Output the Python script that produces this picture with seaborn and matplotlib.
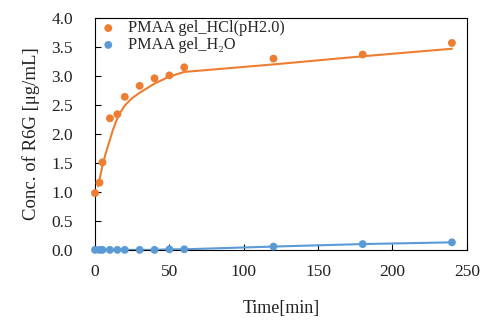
import numpy as np
import pandas as pd
import matplotlib
matplotlib.use("Agg")
import matplotlib.pyplot as plt
import seaborn as sns

# data
time_min = [0, 3, 5, 10, 15, 20, 30, 40, 50, 60, 120, 180, 240]
hcl_conc = [0.98, 1.16, 1.51, 2.27, 2.34, 2.64, 2.83, 2.96, 3.01, 3.15, 3.30, 3.37, 3.57]
h2o_conc = [0.0, 0.0, 0.0, 0.0, 0.0, 0.0, 0.0, 0.0, 0.01, 0.01, 0.057, 0.10, 0.13]

# fitted curve for the HCl series
fit_time = [2, 5, 7, 10, 12, 15, 17, 20, 25, 30, 40, 50, 60, 120, 180, 240]
fit_conc = [1.10, 1.45, 1.65, 1.90, 2.07, 2.27, 2.37, 2.49, 2.62, 2.71, 2.87, 2.99, 3.07, 3.20, 3.34, 3.47]

orange = "#ED7D31"
blue = "#5B9BD5"

sns.set_theme(style="white")
plt.rcParams["font.family"] = ["Liberation Serif", "DejaVu Serif"]

df = pd.DataFrame({"Time": time_min, "HCl": hcl_conc, "H2O": h2o_conc})
fit = pd.DataFrame({"Time": fit_time, "Conc": fit_conc})

fig, ax = plt.subplots(figsize=(4.95, 3.22), dpi=100)
fig.subplots_adjust(left=0.192, right=0.943, top=0.944, bottom=0.224)

sns.lineplot(data=fit, x="Time", y="Conc", ax=ax, color=orange, linewidth=1.5)
sns.lineplot(data=df, x="Time", y="H2O", ax=ax, color=blue, linewidth=1.5)
sns.scatterplot(data=df, x="Time", y="HCl", ax=ax, color=orange, s=32,
                edgecolor="none", label="PMAA gel_HCl(pH2.0)", clip_on=False, zorder=3)
sns.scatterplot(data=df, x="Time", y="H2O", ax=ax, color=blue, s=32,
                edgecolor="none", label="PMAA gel_H\u2082O", clip_on=False, zorder=3)

ax.set_xlim(0, 250)
ax.set_ylim(0, 4.0)
ax.set_xticks(np.arange(0, 251, 50))
ax.set_yticks(np.arange(0, 4.01, 0.5))
ax.yaxis.set_major_formatter(matplotlib.ticker.FormatStrFormatter("%.1f"))
ax.tick_params(direction="in", length=4, width=0.8, color="black",
               labelsize=12.5, colors="#222222", top=False, right=False,
               bottom=True, left=True)
ax.tick_params(axis="x", pad=10.5)
ax.tick_params(axis="y", pad=16)
for sp in ax.spines.values():
    sp.set_color("black")
    sp.set_linewidth(0.8)

ax.set_xlabel("Time[min]", fontsize=13, labelpad=14, color="#222222")
ax.set_ylabel("Conc. of R6G [\u03bcg/mL]", fontsize=13.5, labelpad=8, color="#222222")

ax.legend(loc="upper left", frameon=False, fontsize=11.7, handletextpad=0.2,
          borderaxespad=0.1, labelspacing=0.05, markerscale=1.0,
          bbox_to_anchor=(-0.03, 1.025))

fig.savefig("out.png", dpi=100)
